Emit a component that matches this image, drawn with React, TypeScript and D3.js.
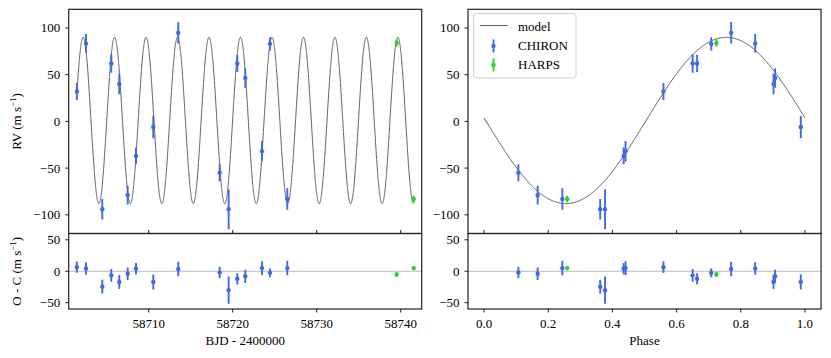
import React from "react";
import * as d3 from "d3";

// CHIRON velocities
const chironTimes = [
  58701.45, 58702.54, 58704.48, 58705.55, 58706.5, 58707.5, 58708.49, 58710.55,
  58713.52, 58718.45, 58719.52, 58720.55, 58721.5, 58723.49, 58724.44, 58726.5,
];
const chironRv = [32, 83.5, -94, 62, 40, -79, -37, -6, 95, -55, -94, 62, 46.5, -32, 83, -83];
const chironErr = [9, 10, 11, 10, 11, 10, 9, 12, 11.5, 9, 21.5, 9, 10.5, 11, 7, 11.5];
const chironResid = [6.5, 4.5, -24.5, -6.5, -17, -4, 4, -17, 3.5, -2, -30, -12, -8, 5, -2.5, 5];
const chironPhase = [
  0.559, 0.845, 0.362, 0.65, 0.902, 0.167, 0.435, 0.987, 0.77, 0.107, 0.377, 0.664,
  0.907, 0.441, 0.708, 0.244,
];

// HARPS velocities
const harpsTimes = [58739.52, 58741.55];
const harpsRv = [84, -83];
const harpsErr = [4, 3.5];
const harpsResid = [-5, 5];
const harpsPhase = [0.724, 0.259];

// circular orbit fit
const period = 3.746;
const t0 = 58699.37;
const semiAmp = 89;
const rvOffset = 1;
const phaseShift = 0.505;

const timeTicks = [58710, 58720, 58730, 58740];
const phaseTicks = [0, 0.2, 0.4, 0.6, 0.8, 1.0];
const rvTicks = [-100, -50, 0, 50, 100];
const residTicks = [-50, 0, 50];

const CHIRON_COLOR = "#4169e1";
const HARPS_COLOR = "#32cd32";
const FONT = "'Liberation Serif', 'DejaVu Serif', serif";

const modelAtPhase = (p: number) =>
  rvOffset + semiAmp * Math.sin(2 * Math.PI * (p - phaseShift));
const phaseOf = (t: number) => {
  const f = (t - t0) / period;
  return f - Math.floor(f);
};

const fmt = (v: number, digits = 0) => {
  const s = Math.abs(v).toFixed(digits);
  return v < 0 ? "\u2212" + s : s;
};

const top = 9.3;
const mid = 233.5;
const bottom = 309;

const yRv = d3.scaleLinear().domain([-120, 120]).range([mid, top]);
const yRes = d3.scaleLinear().domain([-60, 60]).range([bottom, mid]);

const Unit = ({ label }: { label: string }) => (
  <>
    {label} (m s
    <tspan dy={-5} fontSize={9}>
      {"\u22121"}
    </tspan>
    <tspan dy={5}>)</tspan>
  </>
);

type Series = { xs: number[]; ys: number[]; errs: number[]; color: string };

const ErrorBars = ({
  s,
  x,
  y,
}: {
  s: Series;
  x: d3.ScaleLinear<number, number>;
  y: d3.ScaleLinear<number, number>;
}) => (
  <g>
    {s.xs.map((xv, i) => (
      <g key={i}>
        <line
          x1={x(xv)}
          x2={x(xv)}
          y1={y(s.ys[i] - s.errs[i])}
          y2={y(s.ys[i] + s.errs[i])}
          stroke={s.color}
          strokeWidth={1.9}
        />
        <circle cx={x(xv)} cy={y(s.ys[i])} r={2.2} fill={s.color} />
      </g>
    ))}
  </g>
);

const Panel = ({
  id,
  x,
  xTicks,
  xFmt,
  xLabel,
  yLabels,
  modelPath,
  top: topSeries,
  resid,
}: {
  id: string;
  x: d3.ScaleLinear<number, number>;
  xTicks: number[];
  xFmt: (v: number) => string;
  xLabel: string;
  yLabels: boolean;
  modelPath: string;
  top: Series[];
  resid: Series[];
}) => {
  const [x0, x1] = x.range();
  return (
    <g>
      <defs>
        <clipPath id={id + "-top"}>
          <rect x={x0} y={top} width={x1 - x0} height={mid - top} />
        </clipPath>
        <clipPath id={id + "-bot"}>
          <rect x={x0} y={mid} width={x1 - x0} height={bottom - mid} />
        </clipPath>
      </defs>
      <g clipPath={`url(#${id}-top)`}>
        <path d={modelPath} fill="none" stroke="#4a4a4a" strokeWidth={0.9} />
        {topSeries.map((s, i) => (
          <ErrorBars key={i} s={s} x={x} y={yRv} />
        ))}
      </g>
      <g clipPath={`url(#${id}-bot)`}>
        <line x1={x0} x2={x1} y1={yRes(0)} y2={yRes(0)} stroke="#aaa" strokeWidth={0.8} />
        {resid.map((s, i) => (
          <ErrorBars key={i} s={s} x={x} y={yRes} />
        ))}
      </g>

      {/* frames */}
      <rect x={x0} y={top} width={x1 - x0} height={mid - top} fill="none" stroke="#222" strokeWidth={1.2} />
      <rect x={x0} y={mid} width={x1 - x0} height={bottom - mid} fill="none" stroke="#222" strokeWidth={1.2} />

      {/* x ticks */}
      {xTicks.map((t) => (
        <g key={t}>
          <line x1={x(t)} x2={x(t)} y1={mid} y2={mid - 3.5} stroke="#222" strokeWidth={1} />
          <line x1={x(t)} x2={x(t)} y1={bottom} y2={bottom + 3.5} stroke="#222" strokeWidth={1} />
          <text x={x(t)} y={328} textAnchor="middle" fontSize={13} fontFamily={FONT}>
            {xFmt(t)}
          </text>
        </g>
      ))}
      <text x={(x0 + x1) / 2} y={345} textAnchor="middle" fontSize={13} fontFamily={FONT}>
        {xLabel}
      </text>

      {/* y ticks */}
      {rvTicks.map((t) => (
        <g key={"rv" + t}>
          <line x1={x0} x2={x0 - 3.5} y1={yRv(t)} y2={yRv(t)} stroke="#222" strokeWidth={1} />
          <text x={x0 - 8.5} y={yRv(t) + 4.5} textAnchor="end" fontSize={13} fontFamily={FONT}>
            {fmt(t)}
          </text>
        </g>
      ))}
      {residTicks.map((t) => (
        <g key={"res" + t}>
          <line x1={x0} x2={x0 - 3.5} y1={yRes(t)} y2={yRes(t)} stroke="#222" strokeWidth={1} />
          <text x={x0 - 8.5} y={yRes(t) + 4.5} textAnchor="end" fontSize={13} fontFamily={FONT}>
            {fmt(t)}
          </text>
        </g>
      ))}
      {yLabels && (
        <>
          <text
            transform={`translate(21, ${(top + mid) / 2}) rotate(-90)`}
            textAnchor="middle"
            fontSize={13}
            fontFamily={FONT}
          >
            <Unit label="RV" />
          </text>
          <text
            transform={`translate(21, ${(mid + bottom) / 2}) rotate(-90)`}
            textAnchor="middle"
            fontSize={13}
            fontFamily={FONT}
          >
            <Unit label="O - C" />
          </text>
        </>
      )}
    </g>
  );
};

export default function App() {
  const xTime = d3.scaleLinear().domain([58700.48, 58742.5]).range([68.7, 421.7]);
  const xPhase = d3.scaleLinear().domain([-0.05, 1.05]).range([468, 821]);

  // model curves sampled along each x axis
  const tMin = d3.min(chironTimes.concat(harpsTimes)) as number;
  const tMax = d3.max(chironTimes.concat(harpsTimes)) as number;
  const tGrid = d3.range(tMin, tMax, 0.01).concat([tMax]);
  const timeModel =
    d3
      .line<number>()
      .x((t) => xTime(t))
      .y((t) => yRv(modelAtPhase(phaseOf(t))))(tGrid) ?? "";
  const pGrid = d3.range(0, 1.0001, 0.002);
  const phaseModel =
    d3
      .line<number>()
      .x((p) => xPhase(p))
      .y((p) => yRv(modelAtPhase(p)))(pGrid) ?? "";

  const leftTop: Series[] = [
    { xs: chironTimes, ys: chironRv, errs: chironErr, color: CHIRON_COLOR },
    { xs: harpsTimes, ys: harpsRv, errs: harpsErr, color: HARPS_COLOR },
  ];
  const leftRes: Series[] = [
    { xs: chironTimes, ys: chironResid, errs: chironErr, color: CHIRON_COLOR },
    { xs: harpsTimes, ys: harpsResid, errs: harpsErr, color: HARPS_COLOR },
  ];
  const rightTop: Series[] = [
    { xs: chironPhase, ys: chironRv, errs: chironErr, color: CHIRON_COLOR },
    { xs: harpsPhase, ys: harpsRv, errs: harpsErr, color: HARPS_COLOR },
  ];
  const rightRes: Series[] = [
    { xs: chironPhase, ys: chironResid, errs: chironErr, color: CHIRON_COLOR },
    { xs: harpsPhase, ys: harpsResid, errs: harpsErr, color: HARPS_COLOR },
  ];

  const legend = [
    { label: "CHIRON", color: CHIRON_COLOR },
    { label: "HARPS", color: HARPS_COLOR },
  ];

  return (
    <svg
      width={831}
      height={358}
      style={{ position: "absolute", left: 0, top: 0, background: "#fff" }}
    >
      <Panel
        id="time"
        x={xTime}
        xTicks={timeTicks}
        xFmt={(v) => String(v)}
        xLabel="BJD - 2400000"
        yLabels={true}
        modelPath={timeModel}
        top={leftTop}
        resid={leftRes}
      />
      <Panel
        id="phase"
        x={xPhase}
        xTicks={phaseTicks}
        xFmt={(v) => v.toFixed(1)}
        xLabel="Phase"
        yLabels={false}
        modelPath={phaseModel}
        top={rightTop}
        resid={rightRes}
      />

      {/* legend */}
      <g fontFamily={FONT} fontSize={13}>
        <rect
          x={473.5}
          y={13.5}
          width={102.5}
          height={64.5}
          rx={3}
          fill="#fff"
          fillOpacity={0.8}
          stroke="#d0d0d0"
          strokeWidth={1}
        />
        <line x1={480} x2={507.5} y1={25.5} y2={25.5} stroke="#4a4a4a" strokeWidth={0.9} />
        <text x={518} y={30.5}>
          model
        </text>
        {legend.map((d, i) => (
          <g key={d.label}>
            <line
              x1={493.5}
              x2={493.5}
              y1={39.5 + i * 19}
              y2={52.5 + i * 19}
              stroke={d.color}
              strokeWidth={1.9}
            />
            <circle cx={493.5} cy={46 + i * 19} r={2.2} fill={d.color} />
            <text x={518} y={50 + i * 19}>
              {d.label}
            </text>
          </g>
        ))}
      </g>
    </svg>
  );
}
